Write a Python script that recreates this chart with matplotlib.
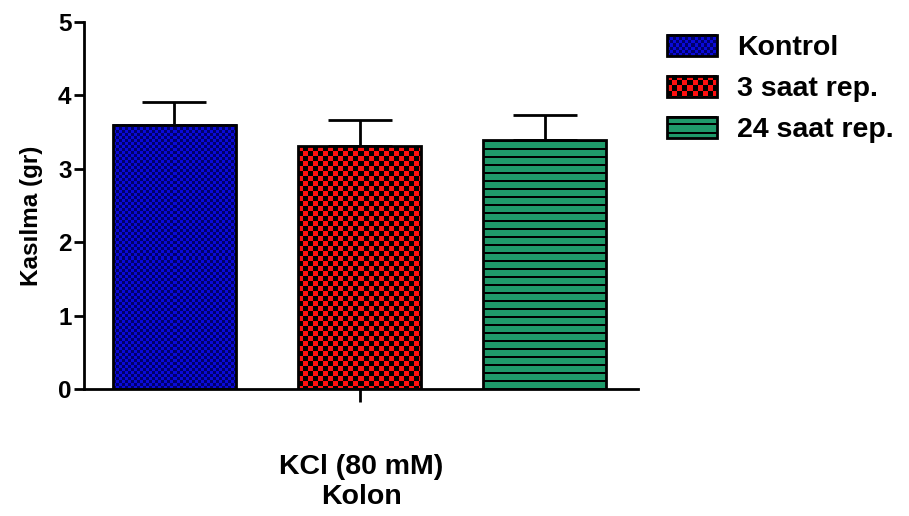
"""Kasılma bar chart (KCl 80 mM, kolon) with patterned bars."""

import numpy as np
import matplotlib
matplotlib.use('Agg')
import matplotlib.pyplot as plt
from matplotlib.image import BboxImage
from matplotlib.transforms import Bbox, TransformedBbox
from matplotlib.legend_handler import HandlerBase
from matplotlib.patches import Rectangle

plt.rcParams['font.family'] = ['Liberation Sans', 'DejaVu Sans']
plt.rcParams['font.weight'] = 'bold'

#%% Data
groups = ['Kontrol', '3 saat rep.', '24 saat rep.']
means = [3.60, 3.31, 3.39]
sem = [0.31, 0.35, 0.34]
xlabel = 'KCl (80 mM)\nKolon'
ylabel = 'Kasılma (gr)'
yticks = [0, 1, 2, 3, 4, 5]

#%% Textures (pixel based fills)
def checker(h, w, cell, c1, c2):
    yy, xx = np.mgrid[0:h, 0:w]
    m = ((yy // cell + xx // cell) % 2).astype(bool)
    img = np.empty((h, w, 3))
    img[~m] = c1
    img[m] = c2
    return img

def stripes(h, w, period, thick, c1, c2, phase=0):
    yy = np.mgrid[0:h, 0:w][0]
    m = ((yy + phase) % period) < thick
    img = np.empty((h, w, 3))
    img[~m] = c1
    img[m] = c2
    return img

def rgb(hexcol):
    return np.array(matplotlib.colors.to_rgb(hexcol))

patterns = [
    lambda h, w: checker(h, w, 3, rgb('#0a0ad8'), rgb('#00006a')),
    lambda h, w: checker(h, w, 5, rgb('#ff1010'), rgb('#000000')),
    lambda h, w: stripes(h, w, 8, 2, rgb('#1f9a6a'), rgb('#000000')),
]
legend_patterns = [
    patterns[0],
    patterns[1],
    lambda h, w: stripes(h, w, h // 3 + 1, 2, rgb('#1f9a6a'), rgb('#000000'),
                         phase=1),
]

#%% Figure
fig = plt.figure(figsize=(9.09, 5.16), dpi=100)
ax = fig.add_axes([0.0924, 0.2461, 0.6095, 0.7113])

x = np.arange(len(groups))
width = 0.665

ax.errorbar(x, means, yerr=[np.zeros(len(sem)), sem], fmt='none',
            ecolor='black', elinewidth=2, capsize=23, capthick=2, zorder=1)
bars = ax.bar(x, means, width, facecolor='none', edgecolor='black',
              linewidth=2, zorder=3)

ax.set_xlim(-0.489, 2.505)
ax.set_ylim(0, 5)

# fill each bar with its texture
for bar, pat in zip(bars, patterns):
    x0, y0 = bar.get_x(), bar.get_y()
    x1, y1 = x0 + bar.get_width(), y0 + bar.get_height()
    (px0, py0), (px1, py1) = ax.transData.transform([(x0, y0), (x1, y1)])
    h, w = int(round(py1 - py0)), int(round(px1 - px0))
    ax.imshow(pat(h, w), extent=(x0, x1, y0, y1), aspect='auto',
              interpolation='nearest', zorder=2)

ax.set_xlim(-0.489, 2.505)
ax.set_ylim(0, 5)
ax.set_yticks(yticks)
ax.set_xticks([1])
ax.set_xticklabels([''])
ax.tick_params(axis='y', labelsize=17.5, width=2, length=7, pad=2,
               direction='out')
ax.tick_params(axis='x', width=2, length=9, direction='out')
for s in ['top', 'right']:
    ax.spines[s].set_visible(False)
for s in ['left', 'bottom']:
    ax.spines[s].set_linewidth(2)

ax.set_ylabel(ylabel, fontsize=17.5, fontweight='bold')
ax.yaxis.set_label_coords(-0.074, 0.471)
ax.set_xlabel(xlabel, fontsize=20.5, fontweight='bold', labelpad=34,
              linespacing=1.2)

#%% Legend with textured swatches
class HandlerTexture(HandlerBase):
    def __init__(self, pat):
        super().__init__()
        self.pat = pat

    def create_artists(self, legend, orig_handle, xdescent, ydescent,
                       width, height, fontsize, trans):
        bb = TransformedBbox(Bbox.from_bounds(-xdescent, -ydescent,
                                              width, height), trans)
        im = BboxImage(bb, interpolation='nearest')
        im.set_data(self.pat(int(height * 1.39), int(width * 1.39)))
        frame = Rectangle((-xdescent, -ydescent), width, height,
                          facecolor='none', edgecolor='black', linewidth=2,
                          transform=trans)
        return [im, frame]

handles = [Rectangle((0, 0), 1, 1) for _ in groups]
leg = fig.legend(handles, groups, loc='upper left',
                 bbox_to_anchor=(0.734, 0.933), frameon=False, fontsize=20.5,
                 borderpad=0, borderaxespad=0,
                 handlelength=1.75, handleheight=0.78, labelspacing=0.51,
                 handletextpad=0.7,
                 handler_map={h: HandlerTexture(p)
                              for h, p in zip(handles, legend_patterns)})

fig.savefig('out.png', dpi=100)
